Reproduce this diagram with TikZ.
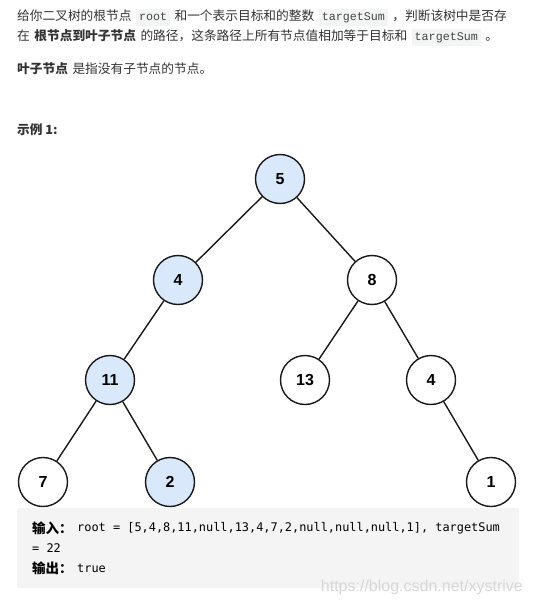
\documentclass[tikz,border=0pt]{standalone}
\usepackage{fontspec}
\setmainfont{Noto Sans CJK SC}
\newfontfamily\numfont{Liberation Sans}
\newfontfamily\spanfont{Liberation Mono}
\newfontfamily\boxfont{DejaVu Sans Mono}
\usepackage{xcolor}
\definecolor{nodeblue}{RGB}{218,232,252}
\definecolor{lineblack}{RGB}{24,24,24}
\definecolor{textgray}{RGB}{51,51,51}
\definecolor{codebg}{RGB}{243,244,244}
\definecolor{codegray}{RGB}{70,70,70}
\definecolor{boxgray}{RGB}{244,244,244}
\definecolor{markgray}{RGB}{215,215,215}
\newcommand{\codespan}[1]{{\setlength{\fboxsep}{3pt}\colorbox{codebg}{\spanfont\fontsize{11.7}{13}\selectfont\color{codegray}\rule[-3pt]{0pt}{11pt}#1}}}
\newcommand{\widespace}{\setlength{\spaceskip}{4.5pt}}

\begin{document}
\begin{tikzpicture}[
  x=1pt, y=-1pt,
  para/.style={anchor=west, inner sep=0pt, text=textgray, font=\fontsize{12.7}{16}\selectfont},
  boxline/.style={anchor=west, inner sep=0pt, text=black, font=\fontsize{13.5}{16}\selectfont},
  codeline/.style={anchor=west, inner sep=0pt, text=black, font=\boxfont\fontsize{11.9}{14}\selectfont},
  tnode/.style={circle, draw=lineblack, line width=1.4pt, minimum size=49pt, inner sep=0pt, fill=white, font=\numfont\bfseries\fontsize{16}{18}\selectfont},
  onpath/.style={tnode, fill=nodeblue},
  edge/.style={draw=lineblack, line width=1.4pt}
]
\useasboundingbox (0,0) rectangle (534,604);

% description
\node[para] (l1) at (17,18) {\widespace 给你二叉树的根节点 \codespan{root} 和一个表示目标和的整数 \codespan{targetSum} ，判断该树中是否存};
\node[para] (l2) at (17,38) {\widespace 在 \textbf{根节点到叶子节点} 的路径，这条路径上所有节点值相加等于目标和 \codespan{targetSum} 。};
\node[para] (l3) at (17,69) {\widespace\textbf{叶子节点} 是指没有子节点的节点。};
\node[para] (ex) at (17,130) {\textbf{示例 1:}};

% tree
\node[onpath] (n5) at (280,179) {5};
\node[onpath] (n4) at (178,280) {4};
\node[tnode] (n8) at (372,280) {8};
\node[onpath] (n11) at (110,380) {11};
\node[tnode] (n13) at (305,380) {13};
\node[tnode] (n4b) at (431,380) {4};
\node[tnode] (n7) at (43,482) {7};
\node[onpath] (n2) at (170,482) {2};
\node[tnode] (n1) at (491,482) {1};

\foreach \a/\b in {n5/n4,n5/n8,n4/n11,n8/n13,n8/n4b,n11/n7,n11/n2,n4b/n1}
  \draw[edge] (\a) -- (\b);

% example box
\node[anchor=north west, fill=boxgray, rounded corners=2pt, minimum width=502pt, minimum height=80pt, inner sep=0pt] (box) at (17,508) {};
\node[boxline] (inlab) at (32,528) {\textbf{输入：}};
\node[codeline] (in1) at (77,528) {root = [5,4,8,11,null,13,4,7,2,null,null,null,1], targetSum};
\node[codeline] (in2) at (32,548) {= 22};
\node[boxline] (outlab) at (32,568) {\textbf{输出：}};
\node[codeline] (out) at (77,568) {true};

\node[anchor=base east, inner sep=0pt, text=markgray, font=\numfont\fontsize{16}{18}\selectfont] (mark) at (523,591) {https://blog.csdn.net/xystrive};
\end{tikzpicture}
\end{document}
